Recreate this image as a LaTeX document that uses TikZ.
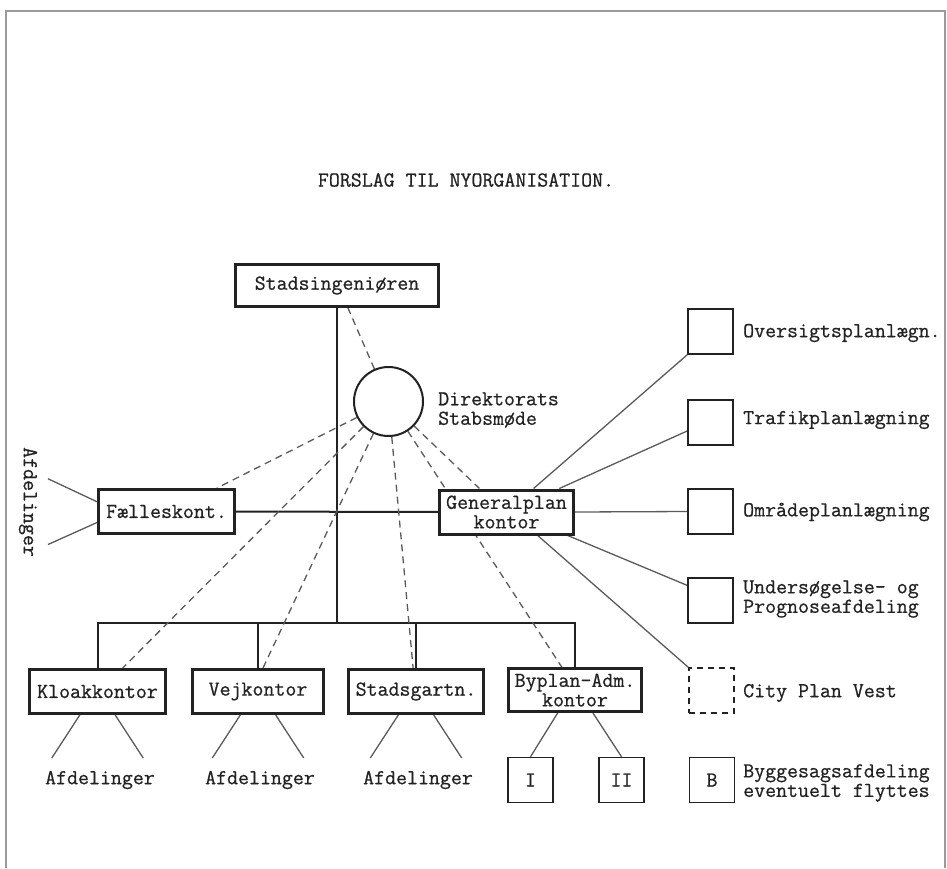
\documentclass[tikz,border=0pt]{standalone}
\usepackage{fontspec}
\usetikzlibrary{backgrounds}
\newfontfamily\typefont{Latin Modern Mono}[FakeBold=0.7]
\definecolor{ink}{HTML}{222222}
\definecolor{pencil}{HTML}{5A5A5A}
\definecolor{edge}{HTML}{9A9A9A}
\newcommand{\typew}{\fontsize{21.3}{19.5}\selectfont\typefont}

\begin{document}
\begin{tikzpicture}[x=1pt, y=-1pt,
    every node/.style={font=\typew, text=ink, inner sep=0pt},
    office/.style={draw=ink, line width=3pt, fill=white, align=center, minimum height=44pt},
    unit/.style={draw=ink, line width=1.5pt, fill=white, minimum width=45pt, minimum height=45pt},
    tag/.style={anchor=west, align=left},
    tree/.style={draw=ink, line width=2pt},
    fan/.style={draw=pencil, line width=1.3pt},
    staff/.style={draw=pencil, line width=1.3pt, dash pattern=on 7pt off 5pt},
]
  \useasboundingbox (0,0) rectangle (947,868);
  % === Sheet edge ===
  \draw[edge, line width=1.5pt] (6,868) -- (6,11) -- (945,11) -- (945,868);

  % === Top ===
  \node (title) at (466,180) {FORSLAG TIL NYORGANISATION.};
  \node[office, minimum width=203pt, minimum height=42pt] (stads) at (337,285.5) {Stadsingeniøren};
  \node[circle, draw=ink, line width=2pt, fill=white, minimum size=69pt] (dir) at (388.5,401.5) {};
  \node[tag] (dirtxt) at (438,410) {Direktorats\\Stabsmøde};

  % === Middle ===
  \node[office, minimum width=136pt] (faelles) at (166.5,511.5) {Fælleskont.};
  \node[office, minimum width=134pt] (general) at (506.5,512) {Generalplan\\kontor};
  \node[rotate=-90] (afdv) at (28,502) {Afdelinger};

  % === Bottom row ===
  \node[office, minimum width=136pt] (kloak) at (97.5,691.5) {Kloakkontor};
  \node[office, minimum width=131pt] (vej) at (258,691.5) {Vejkontor};
  \node[office, minimum width=135pt] (gartn) at (416,691.5) {Stadsgartn.};
  \node[office, minimum width=133pt, minimum height=43pt] (byplan) at (575,690) {Byplan-Adm.\\kontor};
  \node (afd1) at (100,780) {Afdelinger};
  \node (afd2) at (260,780) {Afdelinger};
  \node (afd3) at (418,780) {Afdelinger};
  \node[unit] (one) at (530.5,780) {I};
  \node[unit] (two) at (621.5,780) {II};

  % === Right column ===
  \node[unit] (ovs) at (710.5,331.5) {};
  \node[unit] (traf) at (710.5,422.5) {};
  \node[unit] (omr) at (710.5,511.5) {};
  \node[unit] (und) at (710.5,600.5) {};
  \node[unit, dash pattern=on 6pt off 5pt] (city) at (711.5,690.5) {};
  \node[unit] (byg) at (712,780) {B};
  \node[tag] at (743,333) {Oversigtsplanlægn.};
  \node[tag] at (743,420) {Trafikplanlægning};
  \node[tag] at (743,512) {Områdeplanlægning};
  \node[tag] at (743,599) {Undersøgelse- og\\Prognoseafdeling};
  \node[tag] at (743,693) {City Plan Vest};
  \node[tag] at (743,783) {Byggesagsafdeling\\eventuelt flyttes};

  \coordinate (bus) at (337,623);

  \begin{scope}[on background layer]
    % line of command
    \draw[tree] (stads.south) -- (bus);
    \draw[tree] (kloak.north) -- (kloak.north |- bus) -- (byplan.north |- bus) -- (byplan.north);
    \draw[tree] (vej.north) -- (vej.north |- bus);
    \draw[tree] (gartn.north) -- (gartn.north |- bus);
    \draw[tree] (faelles) -- (general);

    % staff meeting
    \draw[staff] (dir) -- (stads.-64);
    \draw[staff] (dir) -- (faelles.25);
    \draw[staff] (dir) -- (kloak.43);
    \draw[staff] (dir) -- (vej.78);
    \draw[staff] (dir) -- (gartn.97);
    \draw[staff] (dir) -- (general.139);
    \draw[staff] (dir) -- (byplan.120);

    % planning sections
    \draw[fan] (general.41) -- (ovs.south west);
    \draw[fan] (general.24) -- (traf.200);
    \draw[fan] (general.east) -- (omr.west);
    \draw[fan] (general.-21) -- (und.147);
    \draw[fan] (general.-37) -- (city.north west);

    % departments
    \draw[fan] (faelles.172) -- ++(-49,-23);
    \draw[fan] (faelles.189) -- ++(-49,22);
    \foreach \o in {kloak, vej, gartn}{
      \draw[fan] (\o.-127) -- ++(-28,43);
      \draw[fan] (\o.-53) -- ++(28,43);
    }
    \draw[fan] (byplan.-127) -- (one.north);
    \draw[fan] (byplan.-52) -- (two.north);
  \end{scope}
\end{tikzpicture}
\end{document}
